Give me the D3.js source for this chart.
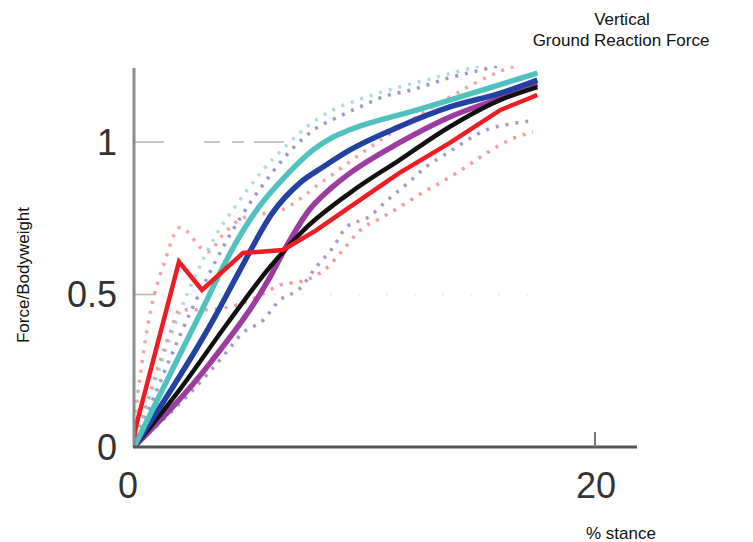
<!DOCTYPE html>
<html>
<head>
<meta charset="utf-8">
<script src="https://cdn.jsdelivr.net/npm/d3@7"></script>
<style>
  html, body { margin: 0; padding: 0; background: #fff; }
  svg { display: block; }
  text { font-family: "Liberation Sans", Arial, sans-serif; }
</style>
</head>
<body>
<svg id="chart" width="753" height="542"></svg>
<script>
// ---- data (x = % stance, y = force / bodyweight) ----
const xTicks = [0, 20];
const yTicks = [0, 0.5, 1];
const yTickLabels = ["0", "0.5", "1"];

// mean curves
const redX    = [0, 0.12, 1.95, 2.95, 4.73, 6.46, 7.9, 9.37, 11.5, 13.7, 15.9, 17.5];
const redY    = [0.03, 0.078, 0.607, 0.515, 0.636, 0.646, 0.71, 0.787, 0.898, 0.997, 1.105, 1.154];
const cyanX   = [0, 2.73, 4.5, 5.4, 6.6, 7.77, 8.63, 9.37, 12.3, 15.1, 17.5];
const cyanY   = [0, 0.416, 0.68, 0.785, 0.89, 0.974, 1.016, 1.04, 1.105, 1.17, 1.226];
const blueX   = [0, 3.43, 4.6, 6.0, 7.2, 8.2, 9.37, 11.5, 13.7, 15.9, 17.5];
const blueY   = [0, 0.416, 0.58, 0.767, 0.866, 0.918, 0.974, 1.05, 1.115, 1.16, 1.203];
const purpleX = [0, 3.3, 5.9, 6.6, 7.6, 8.6, 9.37, 11.5, 13.7, 15.9, 17.5];
const purpleY = [0, 0.275, 0.557, 0.656, 0.777, 0.852, 0.898, 0.997, 1.082, 1.144, 1.19];
const blackX  = [0, 2.0, 4.0, 5.9, 7.5, 9.4, 11.5, 13.7, 15.9, 17.5];
const blackY  = [0, 0.19, 0.4, 0.59, 0.721, 0.835, 0.94, 1.05, 1.138, 1.18];

// dotted spread curves
const cyanUpX   = [0, 2.3, 3.6, 4.5, 5.5, 6.5, 7.5, 8.5, 9.8, 11.5, 13.0, 14.5, 17.5];
const cyanUpY   = [0, 0.5, 0.7, 0.8, 0.9, 0.98, 1.05, 1.1, 1.14, 1.18, 1.21, 1.24, 1.3];
const blueUpX   = [0, 2.5, 3.9, 4.6, 5.6, 6.9, 7.8, 8.8, 9.8, 10.8, 12.0, 13.8, 15.0, 17.5];
const blueUpY   = [0, 0.45, 0.66, 0.75, 0.86, 0.98, 1.04, 1.08, 1.115, 1.148, 1.17, 1.213, 1.235, 1.28];
const redUpX    = [0, 0.7, 1.3, 2.0, 3.2, 3.9, 4.7, 6.5, 8.0, 10.0, 12.0, 14.0, 15.7, 17.5];
const redUpY    = [0.08, 0.44, 0.6, 0.72, 0.64, 0.7, 0.75, 0.78, 0.86, 0.97, 1.07, 1.16, 1.226, 1.27];
const redLowX   = [0, 1.26, 1.56, 2.0, 3.0, 4.2, 5.3, 6.3, 7.5, 8.4, 9.07, 9.8, 10.8, 11.8, 12.5, 13.6, 14.4, 15.3, 16.3, 17.3];
const redLowY   = [0, 0.31, 0.374, 0.45, 0.45, 0.46, 0.49, 0.53, 0.548, 0.59, 0.646, 0.71, 0.754, 0.8, 0.833, 0.88, 0.918, 0.964, 1.007, 1.033];
const purpLowX  = [0, 3.2, 4.0, 4.7, 5.6, 6.3, 7.2, 7.9, 8.65, 9.2, 10.2, 11.0, 11.8, 12.7, 13.6, 15.3, 16.4, 17.3];
const purpLowY  = [0, 0.24, 0.31, 0.373, 0.416, 0.48, 0.52, 0.59, 0.656, 0.72, 0.755, 0.81, 0.86, 0.92, 0.964, 1.04, 1.06, 1.07];

// ---- drawing ----
const svg = d3.select("#chart");
const x = d3.scaleLinear().domain([0, 20]).range([134, 595]);
const y = d3.scaleLinear().domain([0, 1]).range([447, 142]);
const plotLeft = 134, plotRight = 637, plotTop = 66, plotBottom = 447;

svg.append("defs").append("clipPath").attr("id", "clip")
  .append("rect").attr("x", plotLeft).attr("y", plotTop)
  .attr("width", plotRight - plotLeft).attr("height", plotBottom - plotTop);

// gridlines
svg.append("line").attr("x1", plotLeft).attr("x2", 300)
  .attr("y1", y(1)).attr("y2", y(1))
  .attr("stroke", "#b4b4b4").attr("stroke-width", 1.5).attr("stroke-dasharray", "30,40,16,12,12,10");
svg.append("line").attr("x1", plotLeft).attr("x2", 540)
  .attr("y1", y(0.5)).attr("y2", y(0.5))
  .attr("stroke", "#e2e2e2").attr("stroke-width", 1.5).attr("stroke-dasharray", "2,26");
svg.append("line").attr("x1", plotLeft).attr("x2", plotLeft + 22)
  .attr("y1", y(0.5)).attr("y2", y(0.5))
  .attr("stroke", "#b4b4b4").attr("stroke-width", 1.5);

const g = svg.append("g").attr("clip-path", "url(#clip)");
const lineLin = d3.line().x(d => x(d[0])).y(d => y(d[1]));
const lineSmooth = d3.line().x(d => x(d[0])).y(d => y(d[1])).curve(d3.curveMonotoneX);
const pts = (xs, ys) => xs.map((v, i) => [v, ys[i]]);

const dotted = [
  [redLowX, redLowY, "#ee6f6f"],
  [purpLowX, purpLowY, "#8a6aa8"],
  [redUpX, redUpY, "#f07a7a"],
  [blueUpX, blueUpY, "#6a6fb4"],
  [cyanUpX, cyanUpY, "#86cfd0"]
];
dotted.forEach(([xs, ys, c]) => {
  g.append("path").attr("d", lineSmooth(pts(xs, ys)))
    .attr("fill", "none").attr("stroke", c).attr("stroke-width", 3.5)
    .attr("stroke-dasharray", "3,7").attr("opacity", 0.7);
});

const solid = [
  [purpleX, purpleY, "#9b3d9f", 5.5, true],
  [blackX, blackY, "#111111", 4.5, true],
  [blueX, blueY, "#2341a3", 5.5, true],
  [cyanX, cyanY, "#4fc2c0", 5.5, true],
  [redX, redY, "#ee1c25", 4.5, false]
];
solid.forEach(([xs, ys, c, w, smooth]) => {
  g.append("path").attr("d", (smooth ? lineSmooth : lineLin)(pts(xs, ys)))
    .attr("fill", "none").attr("stroke", c).attr("stroke-width", w)
    .attr("stroke-linejoin", "miter").attr("stroke-linecap", "butt");
});

// axes
svg.append("line").attr("x1", plotLeft).attr("x2", plotLeft)
  .attr("y1", 68).attr("y2", plotBottom)
  .attr("stroke", "#8c8c8c").attr("stroke-width", 3);
svg.append("line").attr("x1", plotLeft - 1).attr("x2", plotRight)
  .attr("y1", plotBottom).attr("y2", plotBottom)
  .attr("stroke", "#555").attr("stroke-width", 3);
svg.append("line").attr("x1", x(20)).attr("x2", x(20))
  .attr("y1", plotBottom - 15).attr("y2", plotBottom)
  .attr("stroke", "#777").attr("stroke-width", 2);

// tick labels
svg.selectAll("text.ytick").data(yTicks).enter().append("text")
  .attr("class", "ytick")
  .attr("x", 117).attr("y", d => y(d)).attr("dy", "0.36em")
  .attr("text-anchor", "end").attr("font-size", 36).attr("fill", "#333")
  .text((d, i) => yTickLabels[i]);

svg.selectAll("text.xtick").data(xTicks).enter().append("text")
  .attr("class", "xtick")
  .attr("x", d => d === 0 ? x(d) - 6 : x(d) + 1).attr("y", 498)
  .attr("text-anchor", "middle").attr("font-size", 36).attr("fill", "#333")
  .text(d => String(d));

// titles
svg.append("text").attr("x", 622).attr("y", 25).attr("text-anchor", "middle")
  .attr("font-size", 17).attr("fill", "#111").text("Vertical");
svg.append("text").attr("x", 621).attr("y", 46).attr("text-anchor", "middle")
  .attr("font-size", 17).attr("fill", "#111").text("Ground Reaction Force");
svg.append("text").attr("x", 621).attr("y", 539).attr("text-anchor", "middle")
  .attr("font-size", 17).attr("fill", "#111").text("% stance");
svg.append("text").attr("transform", "translate(29,275) rotate(-90)")
  .attr("text-anchor", "middle").attr("font-size", 17).attr("fill", "#111")
  .text("Force/Bodyweight");
</script>
</body>
</html>
